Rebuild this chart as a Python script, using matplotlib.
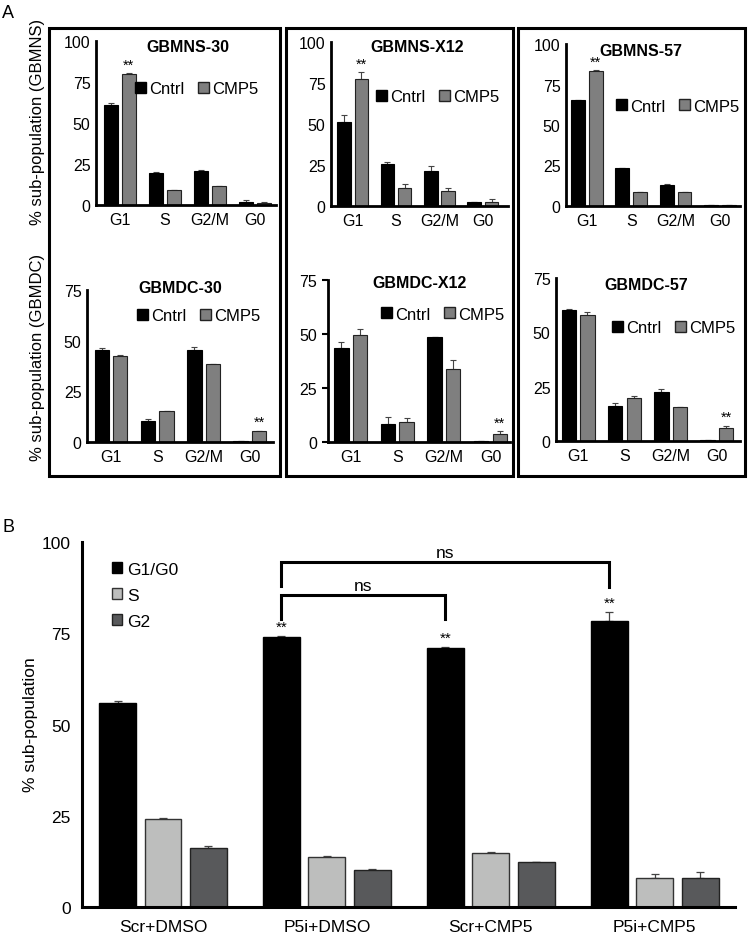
import matplotlib
matplotlib.use('Agg')
import matplotlib.pyplot as plt
from matplotlib.patches import Rectangle, Patch
import numpy as np

plt.rcParams['font.family'] = ['Liberation Sans', 'DejaVu Sans']

# ---------------- data ----------------
phases = ['G1', 'S', 'G2/M', 'G0']
conditions = ['Cntrl', 'CMP5']

ns30_cntrl = [61, 19.5, 20.5, 2]
ns30_cntrl_err = [1.5, 0.6, 0.6, 1.2]
ns30_cmp5 = [80, 9, 11.5, 1.5]
ns30_cmp5_err = [0.5, 0.2, 0.2, 0.3]

nsx12_cntrl = [51.5, 25.8, 21.6, 2.5]
nsx12_cntrl_err = [4, 1.2, 2.8, 0.2]
nsx12_cmp5 = [77.5, 11.2, 9.2, 2.7]
nsx12_cmp5_err = [4, 2, 1.5, 1.3]

ns57_cntrl = [65.5, 23.3, 12.8, 0.6]
ns57_cntrl_err = [0.2, 0.2, 0.6, 0.1]
ns57_cmp5 = [83.3, 8.6, 8.6, 0.7]
ns57_cmp5_err = [0.4, 0.1, 0.1, 0.1]

dc30_cntrl = [45.2, 10.4, 45.6, 0.4]
dc30_cntrl_err = [1.0, 1.0, 1.5, 0.1]
dc30_cmp5 = [42.4, 15.1, 38.5, 5.3]
dc30_cmp5_err = [0.3, 0.1, 0.2, 0.3]

dcx12_cntrl = [43.5, 8.2, 48.4, 0.3]
dcx12_cntrl_err = [3.0, 3.6, 0.3, 0.1]
dcx12_cmp5 = [49.4, 9.2, 33.8, 3.7]
dcx12_cmp5_err = [2.9, 1.8, 4.0, 1.5]

dc57_cntrl = [60.3, 15.9, 22.7, 0.3]
dc57_cntrl_err = [0.3, 1.5, 1.4, 0.1]
dc57_cmp5 = [57.9, 19.7, 15.5, 6.1]
dc57_cmp5_err = [1.5, 1.2, 0.3, 1.0]

groups = ['Scr+DMSO', 'P5i+DMSO', 'Scr+CMP5', 'P5i+CMP5']
series_b = ['G1/G0', 'S', 'G2']
g1g0 = [55.9, 74.0, 70.9, 78.3]
g1g0_err = [0.5, 0.2, 0.3, 2.4]
s_phase = [24.0, 13.7, 14.7, 7.9]
s_phase_err = [0.3, 0.3, 0.3, 1.1]
g2_phase = [16.2, 10.2, 12.3, 7.9]
g2_phase_err = [0.5, 0.3, 0.1, 1.8]

# ---------------- figure ----------------
W, H = 750, 937
fig = plt.figure(figsize=(7.5, 9.37), dpi=100)

def fx(x):
    return x / W

def fy(y):
    return 1 - y / H

def px_axes(x0, ytop, x1, ybot):
    return fig.add_axes([x0 / W, 1 - ybot / H, (x1 - x0) / W, (ybot - ytop) / H])

CNTRL_C = '#000000'
CMP5_C = '#7f7f7f'

panels = [
    dict(title='GBMNS-30', rect=(96, 42, 276, 206), xlim=(-0.53, 3.47), ylim=100,
         data=(ns30_cntrl, ns30_cntrl_err, ns30_cmp5, ns30_cmp5_err), star=0,
         tpos=(188, 47), lpos=(135, 90), ticklen=0),
    dict(title='GBMNS-X12', rect=(331, 43, 508, 207), xlim=(-0.5, 3.58), ylim=100,
         data=(nsx12_cntrl, nsx12_cntrl_err, nsx12_cmp5, nsx12_cmp5_err), star=0,
         tpos=(417, 48), lpos=(376, 98), ticklen=0),
    dict(title='GBMNS-57', rect=(566, 45, 740, 207), xlim=(-0.47, 3.45), ylim=100,
         data=(ns57_cntrl, ns57_cntrl_err, ns57_cmp5, ns57_cmp5_err), star=0,
         tpos=(641, 52), lpos=(616, 107), ticklen=0),
    dict(title='GBMDC-30', rect=(87, 291, 273, 443), xlim=(-0.52, 3.5), ylim=75,
         data=(dc30_cntrl, dc30_cntrl_err, dc30_cmp5, dc30_cmp5_err), star=3,
         tpos=(180, 289), lpos=(137, 317), ticklen=0),
    dict(title='GBMDC-X12', rect=(328, 281, 510, 443), xlim=(-0.49, 3.42), ylim=75,
         data=(dcx12_cntrl, dcx12_cntrl_err, dcx12_cmp5, dcx12_cmp5_err), star=3,
         tpos=(420, 284), lpos=(381, 315), ticklen=4),
    dict(title='GBMDC-57', rect=(556, 279, 740, 442), xlim=(-0.48, 3.5), ylim=75,
         data=(dc57_cntrl, dc57_cntrl_err, dc57_cmp5, dc57_cmp5_err), star=3,
         tpos=(646, 285), lpos=(612, 329), ticklen=0),
]

x = np.arange(len(phases))
bw = 0.31
off = 0.2
for p in panels:
    ax = px_axes(*p['rect'])
    c, ce, m, me = p['data']
    ax.bar(x - off, c, bw, color=CNTRL_C, edgecolor='#000000', linewidth=0.8, zorder=2)
    ax.bar(x + off, m, bw, color=CMP5_C, edgecolor='#222222', linewidth=0.8, zorder=2)
    ax.errorbar(x - off, c, yerr=[np.zeros(4), ce], fmt='none', ecolor='#444444',
                elinewidth=0.8, capsize=2.5, capthick=0.8, zorder=1)
    ax.errorbar(x + off, m, yerr=[np.zeros(4), me], fmt='none', ecolor='#444444',
                elinewidth=0.8, capsize=2.5, capthick=0.8, zorder=1)
    i = p['star']
    ax.annotate('**', (x[i] + off, m[i] + me[i]), xytext=(0, 1), textcoords='offset points',
                ha='center', va='bottom', fontsize=10.5)
    ax.set_xlim(*p['xlim'])
    ax.set_ylim(0, p['ylim'])
    ax.set_yticks(np.arange(0, p['ylim'] + 1, 25))
    ax.set_xticks(x)
    ax.set_xticklabels(phases)
    for s in ['top', 'right']:
        ax.spines[s].set_visible(False)
    for s in ['left', 'bottom']:
        ax.spines[s].set_linewidth(2.0)
    ax.tick_params(axis='x', length=0, pad=5, labelsize=11.5)
    ax.tick_params(axis='y', length=p['ticklen'], width=1.5, pad=4, labelsize=11.5)
    ax.patch.set_alpha(0)
    fig.text(fx(p['tpos'][0]), fy(p['tpos'][1]), p['title'], ha='center', va='center',
             fontsize=11.5, fontweight='bold')
    handles = [Patch(facecolor=CNTRL_C, edgecolor='#000000'),
               Patch(facecolor=CMP5_C, edgecolor='#222222')]
    ax.legend(handles, conditions, ncol=2, loc='center left',
              bbox_to_anchor=(fx(p['lpos'][0]), fy(p['lpos'][1])),
              bbox_transform=fig.transFigure, frameon=False, fontsize=12,
              handlelength=0.65, handleheight=0.65, handletextpad=0.2,
              columnspacing=0.8, borderpad=0, borderaxespad=0)

# boxes around panel A
for (x0, x1) in [(49, 280), (286, 513), (518, 745)]:
    fig.patches.append(Rectangle((fx(x0), fy(477)), (x1 - x0) / W, (477 - 29) / H,
                                 transform=fig.transFigure, fill=False,
                                 edgecolor='black', linewidth=2.2))

fig.text(fx(38), fy(122), '% sub-population (GBMNS)', rotation=90, ha='center',
         va='center', fontsize=12)
fig.text(fx(38), fy(357), '% sub-population (GBMDC)', rotation=90, ha='center',
         va='center', fontsize=12)
fig.text(fx(2), fy(13), 'A', ha='left', va='center', fontsize=13)
fig.text(fx(2), fy(528), 'B', ha='left', va='center', fontsize=13)

# ---------------- panel B ----------------
axb = px_axes(82, 543, 735, 908)
xb = np.arange(len(groups))
bwb = 0.225
ob = 0.277
b_colors = ['#000000', '#bdbebd', '#58595b']
b_edges = ['#000000', '#333333', '#222222']
vals = [g1g0, s_phase, g2_phase]
errs = [g1g0_err, s_phase_err, g2_phase_err]
for k in range(3):
    xp = xb + (k - 1) * ob
    axb.bar(xp, vals[k], bwb, color=b_colors[k], edgecolor=b_edges[k], linewidth=1.0,
            label=series_b[k], zorder=2)
    axb.errorbar(xp, vals[k], yerr=[np.zeros(4), errs[k]], fmt='none', ecolor='#444444',
                 elinewidth=0.9, capsize=3, capthick=0.9, zorder=1)
for i in [1, 2, 3]:
    axb.annotate('**', (xb[i] - ob, g1g0[i] + g1g0_err[i]), xytext=(0, 2),
                 textcoords='offset points', ha='center', va='bottom', fontsize=11)

axb.set_xlim(-0.494, 3.49)
axb.set_ylim(0, 100)
axb.set_yticks([0, 25, 50, 75, 100])
axb.set_xticks(xb)
axb.set_xticklabels(groups)
for s in ['top', 'right']:
    axb.spines[s].set_visible(False)
for s in ['left', 'bottom']:
    axb.spines[s].set_linewidth(2.2)
axb.tick_params(axis='x', length=0, pad=9, labelsize=12.5)
axb.tick_params(axis='y', length=0, pad=8, labelsize=12.5)
axb.patch.set_alpha(0)
fig.text(fx(31), fy(725), '% sub-population', rotation=90, ha='center', va='center',
         fontsize=12.5)

# significance brackets
def bracket(x1, x2, y_top, y1_bot, y2_bot, label):
    axb.plot([x1, x1, x2, x2], [y1_bot, y_top, y_top, y2_bot], color='black',
             linewidth=2.2, solid_joinstyle='miter', clip_on=False)
    axb.text((x1 + x2) / 2, y_top + 0.6, label, ha='center', va='bottom', fontsize=12.5)

bracket(xb[1] - ob, xb[3] - ob, 94.5, 88.0, 87.8, 'ns')
bracket(xb[1] - ob, xb[2] - ob, 85.5, 79.0, 79.0, 'ns')

axb.legend(loc='upper left', bbox_to_anchor=(fx(112), fy(563)), bbox_transform=fig.transFigure,
           frameon=False, fontsize=12.5, handlelength=0.6, handleheight=0.6,
           handletextpad=0.3, labelspacing=0.62, borderpad=0, borderaxespad=0)

fig.savefig('out.png', dpi=100)
